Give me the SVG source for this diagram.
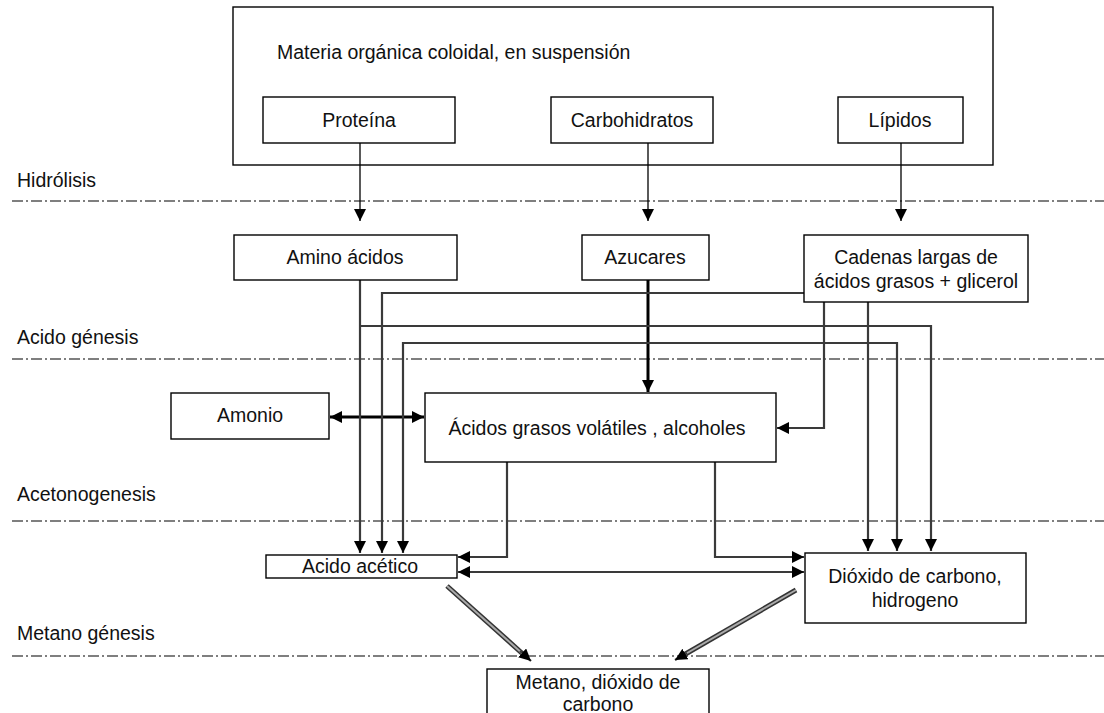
<svg xmlns="http://www.w3.org/2000/svg" width="1104" height="713" viewBox="0 0 1104 713">
<style>
text{font-family:"Liberation Sans",Arial,sans-serif;font-size:19.5px;fill:#111}
.m{text-anchor:middle}
.box{fill:#fff;stroke:#000;stroke-width:1.4}
.dash{stroke:#000;stroke-width:1.2;stroke-dasharray:11 3 2 3;fill:none}
.t{stroke:#000;stroke-width:1.3;fill:none}
.k{stroke:#000;stroke-width:3;fill:none}
.c{stroke:#3a3a3a;stroke-width:2.2;fill:none}
.d1{stroke:#333;stroke-width:5;fill:none}
.d2{stroke:#aaa;stroke-width:2;fill:none}
</style>
<defs>
<marker id="a" markerUnits="userSpaceOnUse" markerWidth="12" markerHeight="12" viewBox="0 0 10 10" refX="10" refY="5" orient="auto-start-reverse"><path d="M0,0 L10,5 L0,10 z" fill="#000"/></marker>
<marker id="ab" markerUnits="userSpaceOnUse" markerWidth="14" markerHeight="12" viewBox="0 0 10 10" refX="10" refY="5" orient="auto-start-reverse"><path d="M0,0 L10,5 L0,10 z" fill="#000"/></marker>
</defs>
<rect width="1104" height="713" fill="#fff"/>

<g id="phases">
<text x="17" y="187">Hidrólisis</text>
<line class="dash" x1="12" y1="201" x2="1104" y2="201"/>
<text x="17" y="344">Acido génesis</text>
<line class="dash" x1="12" y1="359" x2="1104" y2="359"/>
<text x="17" y="501">Acetonogenesis</text>
<line class="dash" x1="12" y1="521" x2="1104" y2="521"/>
<text x="17" y="640">Metano génesis</text>
<line class="dash" x1="12" y1="656" x2="1104" y2="656"/>
</g>

<g id="materia">
<rect class="box" x="233" y="7" width="760" height="158"/>
<text x="277" y="59">Materia orgánica coloidal, en suspensión</text>
</g>
<g id="proteina"><rect class="box" x="263" y="97" width="192" height="46"/><text class="m" x="359" y="127">Proteína</text></g>
<g id="carbohidratos"><rect class="box" x="551" y="97" width="162" height="46"/><text class="m" x="632" y="127">Carbohidratos</text></g>
<g id="lipidos"><rect class="box" x="838" y="97" width="125" height="46"/><text class="m" x="900" y="127">Lípidos</text></g>

<g id="connectors">
<line class="t" x1="360" y1="143" x2="360" y2="221" marker-end="url(#a)"/>
<line class="t" x1="648" y1="143" x2="648" y2="221" marker-end="url(#a)"/>
<line class="t" x1="901" y1="143" x2="901" y2="221" marker-end="url(#a)"/>
<line class="k" x1="648" y1="280" x2="648" y2="392" marker-end="url(#ab)"/>
<line class="k" x1="330" y1="417" x2="424" y2="417" marker-start="url(#ab)" marker-end="url(#ab)"/>
<polyline class="c" points="360,280 360,553" marker-end="url(#a)"/>
<polyline class="c" points="360,326 931,326 931,551" marker-end="url(#a)"/>
<polyline class="c" points="804,293 382,293 382,553" marker-end="url(#a)"/>
<polyline class="c" points="403,553 403,343 897,343 897,551" marker-start="url(#a)" marker-end="url(#a)"/>
<polyline class="c" points="824,302 824,428 777,428" marker-end="url(#a)"/>
<polyline class="c" points="868,302 868,551" marker-end="url(#a)"/>
<polyline class="c" points="507,462 507,557 458,557" marker-end="url(#a)"/>
<polyline class="c" points="715,462 715,557 804,557" marker-end="url(#a)"/>
<line class="c" x1="458" y1="572" x2="804" y2="572" marker-start="url(#a)" marker-end="url(#a)"/>
<line class="d1" x1="447" y1="586" x2="524" y2="655"/>
<line class="d2" x1="447" y1="586" x2="524" y2="655"/>
<line class="c" x1="520" y1="651" x2="531" y2="661" marker-end="url(#a)"/>
<line class="d1" x1="796" y1="590" x2="682" y2="656"/>
<line class="d2" x1="796" y1="590" x2="682" y2="656"/>
<line class="c" x1="687" y1="653" x2="675" y2="660" marker-end="url(#a)"/>
</g>

<g id="amino"><rect class="box" x="234" y="235" width="223" height="45"/><text class="m" x="345" y="264">Amino ácidos</text></g>
<g id="azucares"><rect class="box" x="582" y="235" width="127" height="45"/><text class="m" x="645" y="264">Azucares</text></g>
<g id="cadenas"><rect class="box" x="804" y="235" width="224" height="67"/><text class="m" x="916" y="264">Cadenas largas de</text><text class="m" x="916" y="288">ácidos grasos + glicerol</text></g>
<g id="amonio"><rect class="box" x="171" y="393" width="158" height="46"/><text class="m" x="250" y="422">Amonio</text></g>
<g id="agv"><rect class="box" x="425" y="393" width="351" height="69"/><text class="m" x="597" y="435">Ácidos grasos volátiles , alcoholes</text></g>
<g id="acetico"><rect class="box" x="266" y="555" width="191" height="23"/><text class="m" x="360" y="573">Acido acético</text></g>
<g id="dioxido"><rect class="box" x="805" y="553" width="221" height="70"/><text class="m" x="915" y="583">Dióxido de carbono,</text><text class="m" x="915" y="607">hidrogeno</text></g>
<g id="metano"><rect class="box" x="487" y="669" width="222" height="50"/><text class="m" x="598" y="689">Metano, dióxido de</text><text class="m" x="598" y="711">carbono</text></g>
</svg>
